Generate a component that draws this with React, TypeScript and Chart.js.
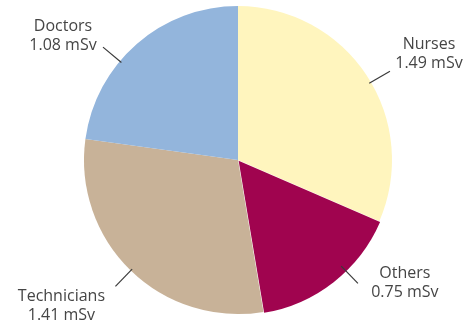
import React, { useEffect, useRef } from "react";
import { Chart, registerables } from "chart.js";

Chart.register(...registerables);

const categories = ["Nurses", "Others", "Technicians", "Doctors"];
const doses = [1.49, 0.75, 1.41, 1.08];
const unit = "mSv";
const colors = ["#FFF5BE", "#A0044F", "#C8B298", "#93B5DC"];
const offsets = [0, 4, 0, 0];

// label layout (styling only): leader-line angle tweak (deg) and text offset from line end
const labelLayout = [
  { dAngle: 3, dx: 39, dy: -27 },
  { dAngle: -6, dx: 47, dy: -10 },
  { dAngle: 0, dx: -54, dy: 10 },
  { dAngle: -9, dx: -40, dy: -21 },
];

const labelPlugin = {
  id: "leaderLabels",
  afterDatasetsDraw(chart: any) {
    const ctx = chart.ctx;
    const meta = chart.getDatasetMeta(0);
    ctx.save();
    ctx.font = "16px 'Open Sans'";
    ctx.fillStyle = "#454545";
    ctx.strokeStyle = "#3a3a3a";
    ctx.lineWidth = 1.2;
    ctx.textAlign = "center";
    ctx.textBaseline = "middle";
    meta.data.forEach((arc: any, i: number) => {
      const { x, y, startAngle, endAngle, outerRadius } = arc.getProps(
        ["x", "y", "startAngle", "endAngle", "outerRadius"],
        true
      );
      const lay = labelLayout[i];
      const a = (startAngle + endAngle) / 2 + (lay.dAngle * Math.PI) / 180;
      const cx = x - Math.cos((startAngle + endAngle) / 2) * offsets[i];
      const cy = y - Math.sin((startAngle + endAngle) / 2) * offsets[i];
      const r = outerRadius;
      const x0 = cx + Math.cos(a) * (r - 2);
      const y0 = cy + Math.sin(a) * (r - 2);
      const x1 = cx + Math.cos(a) * (r + 22);
      const y1 = cy + Math.sin(a) * (r + 22);
      ctx.beginPath();
      ctx.moveTo(x0, y0);
      ctx.lineTo(x1, y1);
      ctx.stroke();
      const tx = x1 + lay.dx;
      const ty = y1 + lay.dy;
      ctx.fillText(categories[i], tx, ty);
      ctx.fillText(doses[i].toFixed(2) + " " + unit, tx, ty + 19);
    });
    ctx.restore();
  },
};

export default function App() {
  const ref = useRef<HTMLCanvasElement>(null);
  useEffect(() => {
    if (!ref.current) return;
    const chart = new Chart(ref.current, {
      type: "pie",
      data: {
        labels: categories,
        datasets: [
          {
            data: doses,
            backgroundColor: colors,
            borderWidth: 0,
            offset: offsets,
            radius: 154,
          } as any,
        ],
      },
      options: {
        animation: false,
        responsive: false,
        layout: { padding: { left: 8, right: 0, top: 0, bottom: 6 } },
        plugins: { legend: { display: false }, tooltip: { enabled: false } },
      },
      plugins: [labelPlugin],
    });
    return () => chart.destroy();
  }, []);
  return (
    <div style={{ position: "fixed", left: 0, top: 0, width: 468, height: 326, background: "#fff" }}>
      <canvas ref={ref} width={468} height={326} style={{ width: 468, height: 326 }} />
    </div>
  );
}
